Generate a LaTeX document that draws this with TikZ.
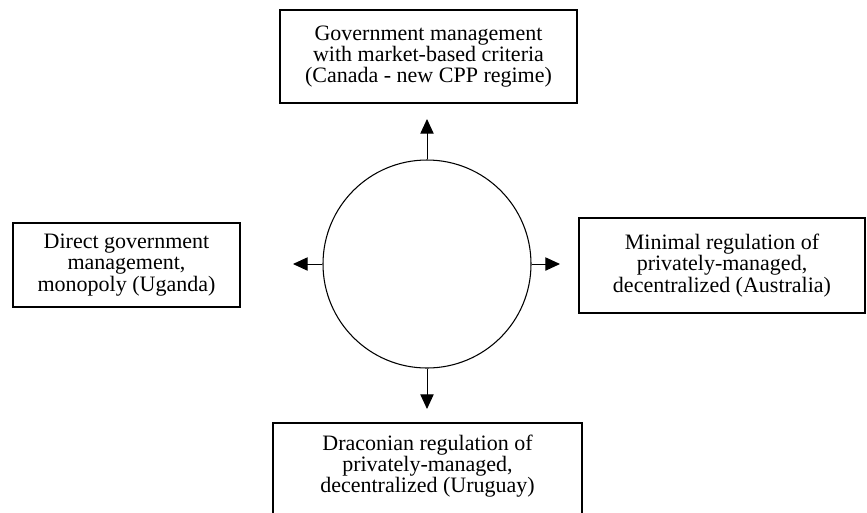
\documentclass[tikz,border=0pt]{standalone}
\usepackage{fontspec}
\setmainfont{Liberation Serif}
\usetikzlibrary{arrows.meta}
\tikzset{
  txt/.style={align=center, inner sep=0pt, font=\fontsize{16.5}{16}\selectfont},
  box/.style={draw, line width=1.1pt, txt},
  arr/.style={line width=0.75pt, -{Triangle[length=11pt,width=10pt]}},
  hub/.style={draw, circle, line width=0.8pt, inner sep=0pt, minimum size=156pt}
}
\begin{document}
\begin{tikzpicture}[x=0.75pt,y=-0.75pt]
\useasboundingbox (0,0) rectangle (867,512);
\node[box, minimum width=222.75pt, minimum height=69.75pt] (top) at (428.5,56.5)
  {Government management\\with market-based criteria\\(Canada - new CPP regime)};
\node[box, minimum width=170.25pt, minimum height=63pt] (left) at (126.5,265)
  {Direct government\\management,\\monopoly (Uganda)};
\node[box, minimum width=214.5pt, minimum height=71.25pt] (right) at (722,265.5)
  {Minimal regulation of\\privately-managed,\\decentralized (Australia)};
\node[draw, line width=1.1pt, minimum width=231.75pt, minimum height=75pt] (bottom) at (427.5,473) {};
\node[txt] (bottomtext) at (427.5,466)
  {Draconian regulation of\\privately-managed,\\decentralized (Uruguay)};
\node[hub] (c) at (427,264) {};
\coordinate (tn) at (427,119);
\coordinate (ts) at (427,409);
\coordinate (tw) at (293,264);
\coordinate (te) at (560,264);
\draw[arr] (c.north) -- (tn);
\draw[arr] (c.south) -- (ts);
\draw[arr] (c.west) -- (tw);
\draw[arr] (c.east) -- (te);
\end{tikzpicture}
\end{document}
